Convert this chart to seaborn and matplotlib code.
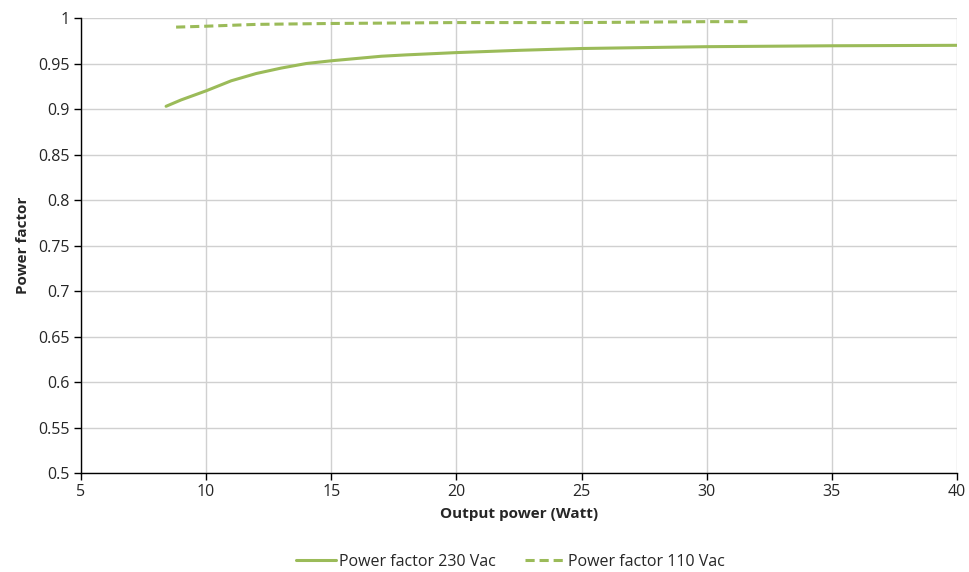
import numpy as np
import pandas as pd
import matplotlib
matplotlib.use("Agg")
import matplotlib.pyplot as plt
import seaborn as sns

# Power factor curves
power230 = [8.4, 9.0, 10.0, 11.0, 12.0, 13.0, 14.0, 15.0, 16.0, 17.0, 18.0, 20.0, 22.5, 25.0, 30.0, 35.0, 40.0]
pf230 = [0.903, 0.910, 0.920, 0.931, 0.939, 0.945, 0.950, 0.953, 0.9555, 0.958, 0.9595, 0.962, 0.9645, 0.9665, 0.9685, 0.9695, 0.970]
power110 = [8.8, 10.0, 12.0, 15.0, 20.0, 25.0, 30.0, 31.7]
pf110 = [0.990, 0.991, 0.993, 0.994, 0.995, 0.995, 0.996, 0.996]

df = pd.concat([
    pd.DataFrame({"power": power230, "pf": pf230, "series": "Power factor 230 Vac"}),
    pd.DataFrame({"power": power110, "pf": pf110, "series": "Power factor 110 Vac"}),
])

sns.set_theme(style="white")
plt.rcParams['font.family'] = ['Open Sans', 'DejaVu Sans']

green = "#9BBB59"
fig = plt.figure(figsize=(9.7, 5.72), dpi=100)
ax = fig.add_axes([0.0835, 0.173, 0.903, 0.7955])

sns.lineplot(data=df, x="power", y="pf", hue="series", style="series",
             palette=[green, green], dashes=[(None, None), (3, 1.6)],
             linewidth=2.2, ax=ax, sort=False)

ax.set_xlim(5, 40)
ax.set_ylim(0.5, 1)
ax.set_xticks(np.arange(5, 41, 5))
ax.set_yticks(np.arange(0.5, 1.001, 0.05))
ax.set_xticklabels([f"{v:g}" for v in np.arange(5, 41, 5)])
ax.set_yticklabels([f"{v:g}" for v in np.round(np.arange(0.5, 1.001, 0.05), 2)])
ax.grid(True, color="#D0D0D0", linewidth=1)
ax.set_axisbelow(True)
for s in ["top", "right"]:
    ax.spines[s].set_visible(False)
for s in ["left", "bottom"]:
    ax.spines[s].set_color("black")
    ax.spines[s].set_linewidth(1)
ax.tick_params(axis="both", direction="out", length=5, width=1, color="black",
               labelsize=11.5, pad=3, left=True, bottom=True)
ax.set_xlabel("Output power (Watt)", fontsize=11, fontweight="bold", labelpad=5)
ax.set_ylabel("Power factor", fontsize=11, fontweight="bold", labelpad=6)

leg = ax.legend(loc="center", bbox_to_anchor=(0.49, -0.195), ncol=2,
                frameon=False, fontsize=11.5, handlelength=2.5, handletextpad=0.2,
                columnspacing=1.8, title=None)

fig.savefig("out.png", dpi=100)
